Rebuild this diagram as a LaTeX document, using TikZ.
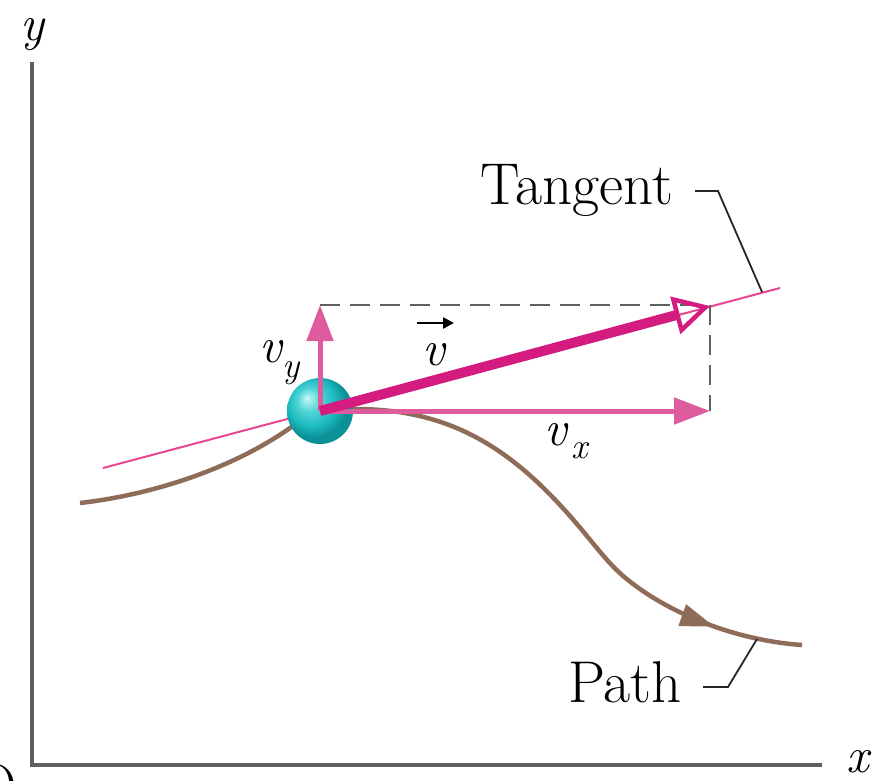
\documentclass[tikz,border=0pt]{standalone}
\usepackage{fontspec}
\usetikzlibrary{arrows.meta,decorations.markings}
\definecolor{vmag}{RGB}{212,28,128}
\definecolor{vpink}{RGB}{222,92,158}
\definecolor{tpink}{RGB}{232,70,145}
\definecolor{pbrown}{RGB}{142,108,88}
\definecolor{axgray}{RGB}{95,95,95}
\definecolor{cyhi}{RGB}{200,248,248}
\definecolor{cymid}{RGB}{80,212,214}
\definecolor{cymain}{RGB}{28,186,190}
\definecolor{cydark}{RGB}{12,145,152}
\pgfdeclareradialshading{cyanball}{\pgfpoint{-10bp}{10bp}}{color(0bp)=(cyhi); color(9bp)=(cymid); color(18bp)=(cymain); color(25bp)=(cydark); color(50bp)=(cydark)}
\begin{document}
\begin{tikzpicture}[x=1pt,y=-1pt,
  lbl/.style={font=\fontsize{59}{64}\selectfont, inner sep=0pt, anchor=base},
  mlbl/.style={font=\fontsize{50}{55}\selectfont\itshape, inner sep=0pt, anchor=base},
  slbl/.style={font=\fontsize{36}{40}\selectfont\itshape, inner sep=0pt, anchor=base},
  leader/.style={draw=black!85, line width=1.8pt},
  axis/.style={draw=axgray, line width=4.5pt},
  comp/.style={draw=vpink, line width=5pt, -{Triangle[length=36pt,width=26pt]}},
]
\useasboundingbox (0,0) rectangle (886,780);
\clip (0,0) rectangle (886,780);
% axes
\coordinate (ytop) at (32,62);
\coordinate (orig) at (32,765);
\coordinate (xend) at (822,765);
\draw[axis] (ytop) -- (orig) -- (xend);
\node[mlbl] (ylab) at (32,40) {y};
\node[mlbl] (xlab) at (858,772) {x};
\node[lbl] (olab) at (-4,805) {O};
% key points
\coordinate (P) at (320,411);
\coordinate (T1) at (103,468);
\coordinate (T2) at (780,288);
\coordinate (V) at (710,306);
\coordinate (VY) at (320,305);
\coordinate (VX) at (710,411);
\coordinate (C) at (710,305);
% tangent line
\draw[tpink, line width=2pt] (T1) -- (T2);
% path
\draw[pbrown, line width=4.5pt, postaction=decorate,
  decoration={markings, mark=at position 0.89 with {\arrow{Triangle[length=34pt,width=22pt]}}}]
  (80,503) .. controls (150,495) and (230,470) .. (290,428)
  .. controls (310,414) and (330,409) .. (355,409)
  .. controls (440,409) and (500,440) .. (560,505)
  .. controls (590,537) and (605,562) .. (628,580)
  .. controls (665,610) and (730,640) .. (802,645);
% ball
\node[circle, inner sep=0pt, minimum size=66pt, shading=cyanball] (ball) at (P) {};
% dashed construction
\draw[axgray, line width=2pt, dash pattern=on 20pt off 10pt] (VY) -- (C) -- (VX);
% components
\draw[comp] (P) -- (VY);
\draw[comp] (P) -- (VX);
% velocity vector
\draw[vmag, line width=10pt, -{Triangle[open, length=36pt, width=38pt, line width=4.5pt]}] (P) -- (V);
% labels
\node[mlbl] (vy) at (271,362) {v};
\node[slbl] (vysub) at (291,377) {y};
\node[mlbl] (vx) at (556,445) {v};
\node[slbl] (vxsub) at (580,458) {x};
\node[mlbl] (vv) at (434,365) {v};
\coordinate (va1) at (417,323);
\coordinate (va2) at (454,323);
\draw[black, line width=2.5pt, -{Triangle[length=11pt,width=11pt]}] (va1) -- (va2);
% Tangent label and leader
\node[lbl] (tan) at (577,204) {Tangent};
\coordinate (tl1) at (695,191);
\coordinate (tl2) at (718,191);
\coordinate (tl3) at (762,292);
\draw[leader] (tl1) -- (tl2) -- (tl3);
% Path label and leader
\node[lbl] (path) at (625,702) {Path};
\coordinate (pl1) at (703,687);
\coordinate (pl2) at (728,687);
\coordinate (pl3) at (757,639);
\draw[leader] (pl1) -- (pl2) -- (pl3);
\end{tikzpicture}
\end{document}
